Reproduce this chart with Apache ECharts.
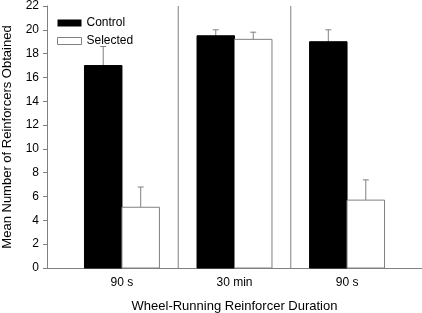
<!DOCTYPE html>
<html>
<head>
<meta charset="utf-8">
<script src="https://cdn.jsdelivr.net/npm/echarts@6/dist/echarts.min.js"></script>
<style>
  html, body { margin: 0; padding: 0; background: #fff; }
  #chart { width: 422px; height: 313px; }
</style>
</head>
<body>
<div id="chart"></div>
<script>
// values
const categories = ['90 s', '30 min', '90 s'];
const positions = [1, 2, 3];
const controlMean = [17.0, 19.5, 19.0];
const controlErr = [1.6, 0.5, 1.0];
const selectedMean = [5.1, 19.2, 5.7];
const selectedErr = [1.7, 0.6, 1.7];
const dividers = [1.5, 2.5];
const yTicks = [0, 22, 2]; // min, max, interval

const gray = '#808080';
const half = 0.333; // bar width in x units

function barSeries(name, means, errs, side, fill) {
  return {
    name: name,
    type: 'custom',
    itemStyle: { color: fill, borderColor: gray },
    data: positions.map((p, i) => [p, means[i], errs[i]]),
    renderItem: function (params, api) {
      const x = api.value(0), m = api.value(1), e = api.value(2);
      const x0 = side < 0 ? x - half : x;
      const x1 = side < 0 ? x : x + half;
      const pA = api.coord([x0, m]);
      const pB = api.coord([x1, 0]);
      const top = api.coord([x0 + half / 2, m + e]);
      const base = api.coord([x0 + half / 2, m]);
      return {
        type: 'group',
        children: [
          {
            type: 'line',
            shape: { x1: base[0], y1: base[1], x2: top[0], y2: top[1] },
            style: { stroke: gray, lineWidth: 1 }
          },
          {
            type: 'line',
            shape: { x1: top[0] - 3, y1: top[1], x2: top[0] + 3, y2: top[1] },
            style: { stroke: gray, lineWidth: 1 }
          },
          {
            type: 'rect',
            shape: { x: pA[0], y: pA[1], width: pB[0] - pA[0], height: pB[1] - pA[1] },
            style: { fill: fill, stroke: fill === '#000' ? '#000' : gray, lineWidth: 1 }
          }
        ]
      };
    }
  };
}

const chart = echarts.init(document.getElementById('chart'));
const option = {
  animation: false,
  textStyle: { fontFamily: 'Liberation Sans, Arial, sans-serif', color: '#000' },
  legend: {
    orient: 'vertical',
    left: 52,
    top: 12,
    itemWidth: 24,
    itemHeight: 7,
    itemGap: 6,
    textStyle: { fontSize: 12, color: '#000' },
    data: [
      { name: 'Control', icon: 'rect', itemStyle: { color: '#000', borderColor: '#000' } },
      { name: 'Selected', icon: 'rect', itemStyle: { color: '#fff', borderColor: gray, borderWidth: 1 } }
    ]
  },
  grid: { left: 47, right: 0, top: 6, bottom: 45, outerBoundsMode: 'none', containLabel: false },
  xAxis: {
    type: 'value',
    min: 1 - half * 2,
    max: 3 + half * 2,
    name: 'Wheel-Running Reinforcer Duration',
    nameLocation: 'middle',
    nameGap: 32,
    nameTextStyle: { fontSize: 13, color: '#000' },
    axisLine: { lineStyle: { color: gray } },
    axisTick: { show: false },
    splitLine: { show: false },
    axisLabel: {
      customValues: positions,
      formatter: v => categories[positions.indexOf(Math.round(v))],
      fontSize: 12,
      color: '#000',
      margin: 9
    }
  },
  yAxis: {
    type: 'value',
    min: yTicks[0],
    max: yTicks[1],
    interval: yTicks[2],
    name: 'Mean Number of Reinforcers Obtained',
    nameLocation: 'middle',
    nameGap: 33,
    nameTextStyle: { fontSize: 13, color: '#000' },
    axisLine: { show: true, lineStyle: { color: gray } },
    axisTick: { show: true, length: 4, lineStyle: { color: gray } },
    splitLine: { show: false },
    axisLabel: { fontSize: 12, color: '#000', margin: 8 }
  },
  series: [
    {
      name: 'dividers',
      type: 'custom',
      silent: true,
      data: dividers.map(d => [d]),
      renderItem: function (params, api) {
        const a = api.coord([api.value(0), yTicks[0]]);
        const b = api.coord([api.value(0), yTicks[1]]);
        return {
          type: 'line',
          shape: { x1: a[0], y1: a[1], x2: b[0], y2: b[1] },
          style: { stroke: gray, lineWidth: 1 }
        };
      }
    },
    barSeries('Control', controlMean, controlErr, -1, '#000'),
    barSeries('Selected', selectedMean, selectedErr, 1, '#fff')
  ]
};
chart.setOption(option);
</script>
</body>
</html>
